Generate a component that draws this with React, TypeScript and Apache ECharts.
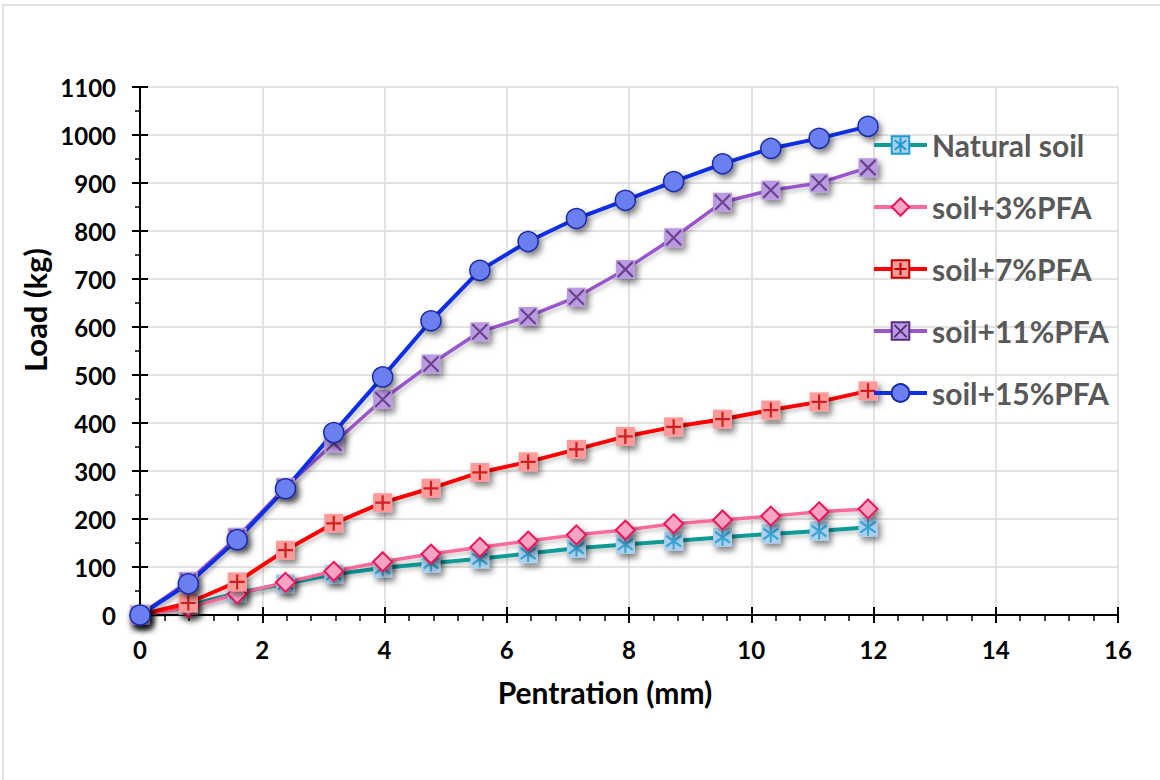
import React, { useEffect, useRef } from "react";
import * as echarts from "echarts";

const penetration = [0, 0.79, 1.59, 2.38, 3.17, 3.97, 4.76, 5.56, 6.35, 7.14, 7.94, 8.73, 9.53, 10.32, 11.11, 11.91];
const naturalSoil = [0, 20, 46, 65, 85, 98, 108, 117, 128, 139, 147, 154, 162, 169, 175, 183];
const soil3PFA = [0, 15, 44, 68, 91, 111, 127, 141, 154, 167, 177, 190, 198, 206, 215, 221];
const soil7PFA = [0, 25, 69, 135, 191, 234, 264, 297, 319, 345, 372, 392, 408, 427, 444, 467];
const soil11PFA = [0, 70, 162, 266, 358, 449, 523, 590, 622, 662, 720, 786, 860, 885, 900, 932];
const soil15PFA = [0, 65, 157, 263, 380, 496, 613, 718, 778, 826, 864, 903, 940, 972, 993, 1018];
const seriesNames = ["Natural soil", "soil+3%PFA", "soil+7%PFA", "soil+11%PFA", "soil+15%PFA"];
const xTicks = { min: 0, max: 16, interval: 2 };
const yTicks = { min: 0, max: 1100, interval: 100 };

const FONT = "Lato, 'Liberation Sans', sans-serif";

const pts = (ys: number[]) => penetration.map((x, i) => [x, ys[i]]);
const plainPts = (ys: number[]) =>
  penetration.map((x, i) => ({ value: [x, ys[i]], symbol: "rect", itemStyle: { borderWidth: 0 } }));

const markShadow = { shadowBlur: 6, shadowOffsetX: 3, shadowOffsetY: 4, shadowColor: "rgba(0,0,0,0.5)" };
const lineShadow = { shadowBlur: 4, shadowOffsetX: 2, shadowOffsetY: 3, shadowColor: "rgba(0,0,0,0.22)" };

export default function App() {
  const ref = useRef<HTMLDivElement>(null);
  useEffect(() => {
    if (!ref.current) return;
    const chart = echarts.init(ref.current, null, { renderer: "svg" });
    const overlay = (name: string, ys: number[], path: string, size: number[], color: string, z: number) => ({
      name,
      type: "scatter",
      data: pts(ys),
      symbol: path,
      symbolSize: size,
      silent: true,
      z,
      itemStyle: { color: "rgba(0,0,0,0)", borderColor: color, borderWidth: 2.2 },
    });
    chart.setOption({
      animation: false,
      backgroundColor: "#ffffff",
      grid: { left: 140, right: 42, top: 87, bottom: 165, containLabel: false },
      graphic: [
        {
          type: "rect",
          silent: true,
          z: -10,
          shape: { x: 3, y: 5, width: 1180, height: 800 },
          style: { fill: "none", stroke: "#d9d9d9", lineWidth: 1.5 },
        },
        {
          type: "text",
          x: 35,
          y: 310,
          rotation: Math.PI / 2,
          style: {
            text: "Load (kg)",
            font: `bold 31px ${FONT}`,
            fill: "#000000",
            align: "center",
            verticalAlign: "middle",
          },
        },
        {
          type: "text",
          x: 605,
          y: 692,
          style: {
            text: "Pentration (mm)",
            font: `bold 30px ${FONT}`,
            fill: "#000000",
            align: "center",
            verticalAlign: "middle",
          },
        },
      ],
      legend: {
        data: seriesNames,
        orient: "vertical",
        left: 872,
        top: 129,
        padding: 0,
        itemWidth: 53,
        itemHeight: 22,
        itemGap: 30,
        textStyle: { fontFamily: FONT, fontWeight: "bold", fontSize: 30, color: "#595959", lineHeight: 32 },
        itemStyle: { shadowBlur: 0, shadowColor: "rgba(0,0,0,0)", shadowOffsetX: 0, shadowOffsetY: 0 },
        lineStyle: { width: 4, shadowBlur: 0, shadowColor: "rgba(0,0,0,0)", shadowOffsetX: 0, shadowOffsetY: 0 },
      },
      xAxis: [
        {
          type: "value",
          ...xTicks,
          position: "bottom",
          axisLine: { show: true, onZero: false, lineStyle: { color: "#000", width: 2 } },
          axisTick: { show: true, inside: false, length: 8, lineStyle: { color: "#000", width: 2 } },
          minorTick: { show: true, splitNumber: 5, length: 6, lineStyle: { color: "#000", width: 1.5 } },
          splitLine: { show: true, lineStyle: { color: "#d9d9d9", width: 1.5 } },
          axisLabel: { margin: 22, fontFamily: FONT, fontWeight: "bold", fontSize: 24, color: "#000" },
        },
        {
          type: "value",
          ...xTicks,
          position: "bottom",
          axisLine: { show: false, onZero: false },
          axisTick: { show: true, inside: true, length: 8, lineStyle: { color: "#000", width: 2 } },
          axisLabel: { show: false },
          splitLine: { show: false },
        },
      ],
      yAxis: [
        {
          type: "value",
          ...yTicks,
          position: "left",
          axisLine: { show: true, onZero: false, lineStyle: { color: "#000", width: 2 } },
          axisTick: { show: true, inside: false, length: 8, lineStyle: { color: "#000", width: 2 } },
          minorTick: { show: true, splitNumber: 2, length: 5, lineStyle: { color: "#000", width: 1.5 } },
          splitLine: { show: true, lineStyle: { color: "#d9d9d9", width: 1.5 } },
          axisLabel: {
            margin: 24,
            fontFamily: FONT,
            fontWeight: "bold",
            fontSize: 24,
            color: "#000",
            formatter: (v: number) => String(v),
          },
        },
        {
          type: "value",
          ...yTicks,
          position: "left",
          axisLine: { show: false, onZero: false },
          axisTick: { show: true, inside: true, length: 8, lineStyle: { color: "#000", width: 2 } },
          axisLabel: { show: false },
          splitLine: { show: false },
        },
      ],
      series: [
        {
          name: seriesNames[0],
          type: "line",
          data: plainPts(naturalSoil),
          symbol: "path://M0 0H20V20H0ZM10 1.5L10 18.5M3.5 4.5L16.5 15.5M16.5 4.5L3.5 15.5",
          symbolSize: 19,
          lineStyle: { color: "#0e9b98", width: 4, ...lineShadow },
          itemStyle: { color: "#acd0ee", borderColor: "#1c9bd0", borderWidth: 1.5, ...markShadow },
          z: 2,
        },
        overlay("ns-mark", naturalSoil, "path://M5 0L5 10M0 1.8L10 8.2M10 1.8L0 8.2", [15, 17], "#1c9bd0", 2),
        {
          name: seriesNames[1],
          type: "line",
          data: pts(soil3PFA),
          symbol: "diamond",
          symbolSize: 19,
          lineStyle: { color: "#fb6b9d", width: 3.5, ...lineShadow },
          itemStyle: { color: "#f8a3c3", borderColor: "#e8175d", borderWidth: 2, ...markShadow },
          z: 2,
        },
        {
          name: seriesNames[2],
          type: "line",
          data: plainPts(soil7PFA),
          symbol: "path://M0 0H20V20H0ZM10 3L10 17M3 10L17 10",
          symbolSize: 19,
          lineStyle: { color: "#ff0000", width: 4, ...lineShadow },
          itemStyle: { color: "#fe9a9a", borderColor: "#c00000", borderWidth: 1.5, ...markShadow },
          z: 2,
        },
        overlay("p7-mark", soil7PFA, "path://M5 0L5 10M0 5L10 5", [15, 15], "#c00000", 2),
        {
          name: seriesNames[3],
          type: "line",
          data: plainPts(soil11PFA),
          symbol: "path://M0 0H20V20H0ZM3 3L17 17M17 3L3 17",
          symbolSize: 19,
          lineStyle: { color: "#9a55cc", width: 3.5, ...lineShadow },
          itemStyle: { color: "#b99ce0", borderColor: "#5a2a7e", borderWidth: 1.5, ...markShadow },
          z: 2,
        },
        overlay("p11-mark", soil11PFA, "path://M0 0L10 10M10 0L0 10", [15, 15], "#5a2a7e", 2),
        {
          name: seriesNames[4],
          type: "line",
          data: pts(soil15PFA),
          symbol: "circle",
          symbolSize: 20,
          lineStyle: { color: "#0f2ee6", width: 4, ...lineShadow },
          itemStyle: { color: "#6b80f1", borderColor: "#1a2aa8", borderWidth: 1.5, ...markShadow },
          z: 2,
        },
      ],
    });
    return () => chart.dispose();
  }, []);
  return (
    <div
      ref={ref}
      style={{ position: "fixed", left: 0, top: 0, width: 1160, height: 780, background: "#ffffff" }}
    />
  );
}
